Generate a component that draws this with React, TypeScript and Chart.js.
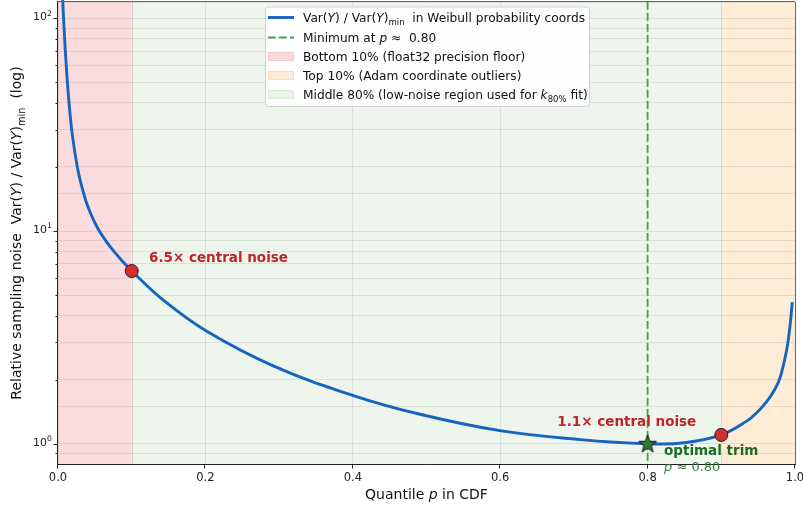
import React, { useEffect, useRef } from "react";
import { Chart, registerables } from "chart.js";

Chart.register(...registerables);

// ---------------- data ----------------
const P_VALUES = [
  0.00488, 0.00583, 0.00841, 0.0114, 0.01506, 0.01981, 0.02673, 0.03189, 0.03799,
  0.04545, 0.05427, 0.06513, 0.07734, 0.08887, 0.1, 0.1429, 0.2018, 0.2921, 0.4007,
  0.4912, 0.5997, 0.7083, 0.8, 0.85, 0.9, 0.9345, 0.9484, 0.9616, 0.9715, 0.9796,
  0.9887, 0.9932, 0.9963,
];
const VAR_RATIO = [
  168.7, 134.4, 87.4, 58.5, 39.7, 27.7, 19.54, 16.38, 13.81,
  11.83, 10.24, 8.97, 7.91, 7.13, 6.486, 4.73, 3.376, 2.322, 1.685,
  1.376, 1.152, 1.046, 1.0, 1.01, 1.1, 1.277, 1.403, 1.578, 1.773, 2.037,
  2.761, 3.572, 4.636,
];
const MARKER_P = [0.1, 0.9];
const MARKER_V = [6.486, 1.1];
const OPT_P = 0.8;
const OPT_V = 1.0;
const BOTTOM_CUT = 0.1;
const TOP_CUT = 0.9;
const X_TICKS = [0, 0.2, 0.4, 0.6, 0.8, 1.0];
const X_TICK_LABELS = ["0.0", "0.2", "0.4", "0.6", "0.8", "1.0"];
const Y_MAJOR = [1, 10, 100];
const Y_MAJOR_EXP = ["0", "1", "2"];
const Y_MINOR = [0.9, 2, 3, 4, 5, 6, 7, 8, 9, 20, 30, 40, 50, 60, 70, 80, 90];
const Y_MIN = 0.803;
const Y_MAX = 119.3;

const FAMILY = "'DejaVu Sans', sans-serif";

type Seg = { t: string; it?: boolean; sub?: boolean; sup?: boolean; bold?: boolean };

function segFont(s: Seg, size: number) {
  const sz = s.sub || s.sup ? size * 0.7 : size;
  return `${s.it ? "italic " : ""}${s.bold ? "bold " : ""}${sz}px ${FAMILY}`;
}
function richWidth(ctx: CanvasRenderingContext2D, segs: Seg[], size: number) {
  let w = 0;
  for (const s of segs) {
    ctx.font = segFont(s, size);
    w += ctx.measureText(s.t).width;
  }
  return w;
}
function drawRich(
  ctx: CanvasRenderingContext2D,
  segs: Seg[],
  x: number,
  y: number,
  size: number,
  color: string,
  align: "left" | "center" | "right" = "left"
) {
  const w = richWidth(ctx, segs, size);
  let cx = align === "left" ? x : align === "center" ? x - w / 2 : x - w;
  ctx.save();
  ctx.fillStyle = color;
  ctx.textBaseline = "alphabetic";
  ctx.textAlign = "left";
  for (const s of segs) {
    ctx.font = segFont(s, size);
    const dy = s.sub ? size * 0.28 : s.sup ? -size * 0.42 : 0;
    ctx.fillText(s.t, cx, y + dy);
    cx += ctx.measureText(s.t).width;
  }
  ctx.restore();
}

function makeStar(): HTMLCanvasElement {
  const c = document.createElement("canvas");
  const S = 22;
  c.width = S;
  c.height = S;
  const g = c.getContext("2d")!;
  const cx = S / 2, cy = S / 2 + 0.6, R = 9.3, r = 3.8;
  g.beginPath();
  for (let i = 0; i < 10; i++) {
    const rad = i % 2 === 0 ? R : r;
    const a = -Math.PI / 2 + (i * Math.PI) / 5;
    const px = cx + rad * Math.cos(a), py = cy + rad * Math.sin(a);
    if (i === 0) g.moveTo(px, py);
    else g.lineTo(px, py);
  }
  g.closePath();
  g.fillStyle = "#2e7d32";
  g.fill();
  g.lineWidth = 1;
  g.strokeStyle = "#111";
  g.stroke();
  return c;
}

const DASH = [7.7, 3.3];

const decorPlugin = {
  id: "decor",
  beforeDraw(chart: any) {
    const { ctx, chartArea: a, scales } = chart;
    const xs = scales.x;
    const x0 = xs.getPixelForValue(0), x1 = xs.getPixelForValue(BOTTOM_CUT);
    const x2 = xs.getPixelForValue(TOP_CUT), x3 = xs.getPixelForValue(1);
    ctx.save();
    ctx.fillStyle = "#fadcde";
    ctx.fillRect(x0, a.top, x1 - x0, a.bottom - a.top);
    ctx.fillStyle = "#edf5ed";
    ctx.fillRect(x1, a.top, x2 - x1, a.bottom - a.top);
    ctx.fillStyle = "#feecd7";
    ctx.fillRect(x2, a.top, x3 - x2, a.bottom - a.top);
    ctx.lineWidth = 1;
    ctx.strokeStyle = "rgba(205,190,180,0.7)";
    ctx.beginPath();
    ctx.moveTo(Math.round(x1) + 0.5, a.top);
    ctx.lineTo(Math.round(x1) + 0.5, a.bottom);
    ctx.stroke();
    ctx.strokeStyle = "rgba(235,215,160,0.8)";
    ctx.beginPath();
    ctx.moveTo(Math.round(x2) + 0.5, a.top);
    ctx.lineTo(Math.round(x2) + 0.5, a.bottom);
    ctx.stroke();
    ctx.restore();
  },
  beforeDatasetsDraw(chart: any) {
    const { ctx, chartArea: a, scales } = chart;
    const x = scales.x.getPixelForValue(OPT_P);
    ctx.save();
    ctx.strokeStyle = "#43a047";
    ctx.lineWidth = 1.8;
    ctx.setLineDash(DASH);
    ctx.beginPath();
    ctx.moveTo(x, a.top);
    ctx.lineTo(x, a.bottom);
    ctx.stroke();
    ctx.restore();
  },
  afterDraw(chart: any) {
    const { ctx, chartArea: a, scales } = chart;
    const xs = scales.x, ys = scales.y;
    ctx.save();
    // spines
    ctx.lineWidth = 1;
    ctx.strokeStyle = "#666";
    ctx.beginPath();
    ctx.moveTo(a.left, a.top - 0.5);
    ctx.lineTo(a.right, a.top - 0.5);
    ctx.moveTo(a.right + 0.5, a.top);
    ctx.lineTo(a.right + 0.5, a.bottom);
    ctx.stroke();
    ctx.strokeStyle = "#222";
    ctx.beginPath();
    ctx.moveTo(a.left - 0.5, a.top - 1);
    ctx.lineTo(a.left - 0.5, a.bottom + 0.5);
    ctx.lineTo(a.right + 1, a.bottom + 0.5);
    ctx.stroke();
    // x ticks
    ctx.beginPath();
    X_TICKS.forEach((v) => {
      const px = Math.round(xs.getPixelForValue(v)) - 0.5;
      ctx.moveTo(px, a.bottom);
      ctx.lineTo(px, a.bottom + 4.5);
    });
    // y ticks
    Y_MAJOR.forEach((v) => {
      const py = Math.round(ys.getPixelForValue(v)) + 0.5;
      ctx.moveTo(a.left, py);
      ctx.lineTo(a.left - 4.5, py);
    });
    Y_MINOR.forEach((v) => {
      const py = Math.round(ys.getPixelForValue(v)) + 0.5;
      ctx.moveTo(a.left, py);
      ctx.lineTo(a.left - 2.5, py);
    });
    ctx.stroke();
    // x tick labels
    ctx.fillStyle = "#222";
    ctx.font = `11.5px ${FAMILY}`;
    ctx.textAlign = "center";
    ctx.textBaseline = "alphabetic";
    X_TICKS.forEach((v, i) => {
      ctx.fillText(X_TICK_LABELS[i], xs.getPixelForValue(v), a.bottom + 17);
    });
    // y tick labels
    Y_MAJOR.forEach((v, i) => {
      const py = ys.getPixelForValue(v);
      drawRich(ctx, [{ t: "10" }, { t: Y_MAJOR_EXP[i], sup: true }], a.left - 6, py + 2, 11, "#222", "right");
    });
    // axis titles
    drawRich(ctx, [{ t: "Quantile " }, { t: "p", it: true }, { t: " in CDF" }], (a.left + a.right) / 2, 499, 14, "#111", "center");
    ctx.save();
    ctx.translate(21, (a.top + a.bottom) / 2);
    ctx.rotate(-Math.PI / 2);
    drawRich(
      ctx,
      [
        { t: "Relative sampling noise  Var(" },
        { t: "Y", it: true },
        { t: ") / Var(" },
        { t: "Y", it: true },
        { t: ")" },
        { t: "min", sub: true },
        { t: "  (log)" },
      ],
      0,
      0,
      14,
      "#111",
      "center"
    );
    ctx.restore();

    // annotations
    const red = "#c0242a";
    drawRich(ctx, [{ t: "6.5× central noise", bold: true }], xs.getPixelForValue(0.1235), ys.getPixelForValue(7.15), 13.5, red);
    drawRich(ctx, [{ t: "1.1× central noise", bold: true }], xs.getPixelForValue(0.6775), ys.getPixelForValue(1.211), 13.5, red);
    drawRich(ctx, [{ t: "optimal trim", bold: true }], xs.getPixelForValue(0.8223), ys.getPixelForValue(0.885), 13.5, "#1f6b23");
    drawRich(ctx, [{ t: "p", it: true }, { t: " ≈ 0.80" }], xs.getPixelForValue(0.8223), ys.getPixelForValue(0.744), 13, "#2e7d32");

    // legend
    const lx = 265, ly = 6.5, lw = 324, lh = 99.5;
    ctx.save();
    ctx.fillStyle = "rgba(255,255,255,0.85)";
    ctx.strokeStyle = "#d0d0d0";
    ctx.lineWidth = 1;
    ctx.beginPath();
    (ctx as any).roundRect(lx + 0.5, ly + 0.5, lw, lh, 3);
    ctx.fill();
    ctx.stroke();
    ctx.restore();
    const hx = 268, hw = 26, tx = 303, fs = 12.2;
    const rows = [17.5, 37.5, 56.5, 75.5, 94.5];
    // row 1: line
    ctx.strokeStyle = "#1565c0";
    ctx.lineWidth = 2.9;
    ctx.setLineDash([]);
    ctx.beginPath();
    ctx.moveTo(hx, rows[0]);
    ctx.lineTo(hx + hw, rows[0]);
    ctx.stroke();
    drawRich(
      ctx,
      [
        { t: "Var(" },
        { t: "Y", it: true },
        { t: ") / Var(" },
        { t: "Y", it: true },
        { t: ")" },
        { t: "min", sub: true },
        { t: "  in Weibull probability coords" },
      ],
      tx,
      rows[0] + 4.3,
      fs,
      "#111"
    );
    // row 2: dashed
    ctx.strokeStyle = "#43a047";
    ctx.lineWidth = 1.8;
    ctx.setLineDash(DASH);
    ctx.beginPath();
    ctx.moveTo(hx, rows[1]);
    ctx.lineTo(hx + hw, rows[1]);
    ctx.stroke();
    ctx.setLineDash([]);
    drawRich(ctx, [{ t: "Minimum at " }, { t: "p", it: true }, { t: " ≈  0.80" }], tx, rows[1] + 4.3, fs, "#111");
    // patches
    const patch = (y: number, fill: string, stroke: string) => {
      ctx.fillStyle = fill;
      ctx.strokeStyle = stroke;
      ctx.lineWidth = 1;
      ctx.fillRect(hx, y - 4.5, hw, 9);
      ctx.strokeRect(hx + 0.5, y - 4, hw - 1, 8);
    };
    patch(rows[2], "#f9d9dc", "#f3c9cd");
    drawRich(ctx, [{ t: "Bottom 10% (float32 precision floor)" }], tx, rows[2] + 4.3, fs, "#111");
    patch(rows[3], "#feebd3", "#fbdfbb");
    drawRich(ctx, [{ t: "Top 10% (Adam coordinate outliers)" }], tx, rows[3] + 4.3, fs, "#111");
    patch(rows[4], "#e9f3e9", "#dbebdb");
    drawRich(
      ctx,
      [{ t: "Middle 80% (low-noise region used for " }, { t: "k", it: true }, { t: "80%", sub: true }, { t: " fit)" }],
      tx,
      rows[4] + 4.3,
      fs,
      "#111"
    );
    ctx.restore();
  },
};

export default function App() {
  const ref = useRef<HTMLCanvasElement | null>(null);
  useEffect(() => {
    document.body.style.margin = "0";
    const canvas = ref.current!;
    const star = makeStar();
    const chart = new Chart(canvas, {
      type: "scatter",
      data: {
        datasets: [
          {
            label: "optimum",
            data: [{ x: OPT_P, y: OPT_V }],
            pointStyle: star as any,
            pointRadius: 10,
            showLine: false,
            order: 0,
          } as any,
          {
            label: "markers",
            data: MARKER_P.map((p, i) => ({ x: p, y: MARKER_V[i] })),
            pointRadius: 6.5,
            pointBackgroundColor: "#d32f2f",
            pointBorderColor: "#1a1a1a",
            pointBorderWidth: 1,
            showLine: false,
            order: 1,
          },
          {
            label: "curve",
            data: P_VALUES.map((p, i) => ({ x: p, y: VAR_RATIO[i] })),
            showLine: true,
            borderColor: "#1565c0",
            borderWidth: 2.9,
            pointRadius: 0,
            tension: 0.4,
            clip: 2,
            order: 2,
          } as any,
        ],
      },
      options: {
        responsive: false,
        animation: false,
        devicePixelRatio: 1,
        layout: { autoPadding: false, padding: { top: 2, right: 8, left: 0, bottom: 0 } },
        plugins: { legend: { display: false }, tooltip: { enabled: false } },
        scales: {
          x: {
            type: "linear",
            min: 0,
            max: 1,
            ticks: { display: false, stepSize: 0.2 },
            grid: { color: "rgba(0,0,0,0.08)", drawTicks: false, lineWidth: 1 },
            border: { display: false },
            afterFit: (s: any) => {
              s.height = 42;
            },
          },
          y: {
            type: "logarithmic",
            min: Y_MIN,
            max: Y_MAX,
            ticks: { display: false },
            grid: { color: "rgba(0,0,0,0.08)", drawTicks: false, lineWidth: 1 },
            border: { display: false },
            afterFit: (s: any) => {
              s.width = 58;
            },
          },
        },
      } as any,
      plugins: [decorPlugin],
    });
    return () => chart.destroy();
  }, []);
  return (
    <div style={{ width: 803, height: 506 }}>
      <canvas ref={ref} width={803} height={506} style={{ display: "block" }} />
    </div>
  );
}
